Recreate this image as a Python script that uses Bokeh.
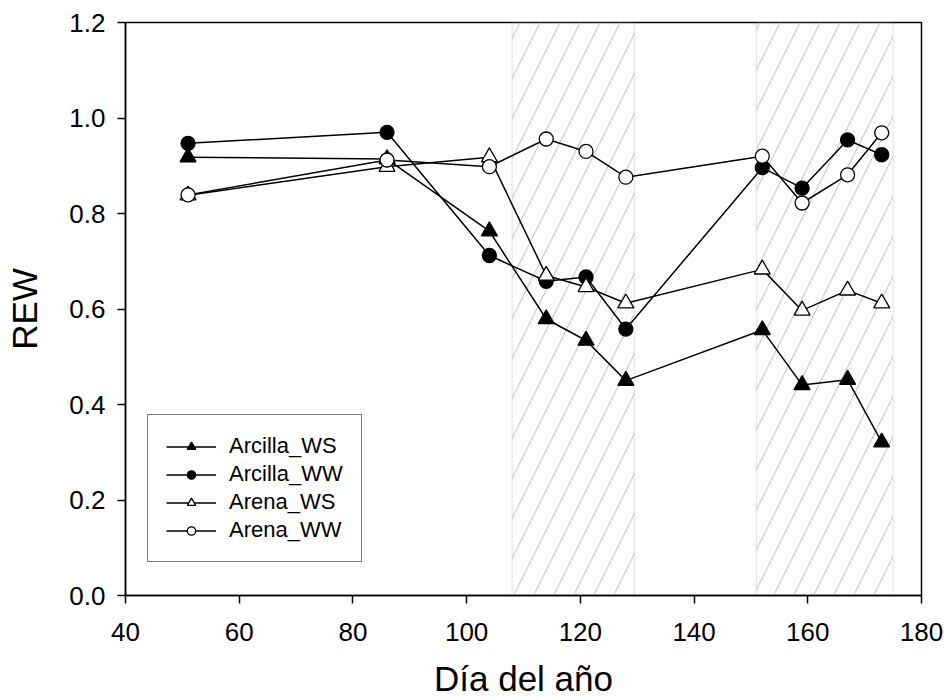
from bokeh.plotting import figure
from bokeh.models import (BoxAnnotation, Legend, LegendItem, FixedTicker, Range1d,
                          NumeralTickFormatter)
from bokeh.embed import file_html
from bokeh.resources import INLINE

# ---- data ----
days = [51, 86, 104, 114, 121, 128, 152, 159, 167, 173]
arcilla_ws = [0.918, 0.914, 0.763, 0.579, 0.534, 0.450, 0.556, 0.441, 0.452, 0.321]
arcilla_ww = [0.947, 0.970, 0.712, 0.658, 0.667, 0.558, 0.896, 0.853, 0.954, 0.923]
arena_ws = [0.838, 0.898, 0.918, 0.670, 0.646, 0.612, 0.683, 0.597, 0.639, 0.612]
arena_ww = [0.839, 0.912, 0.898, 0.956, 0.930, 0.876, 0.920, 0.822, 0.881, 0.969]

# shaded (hatched) periods, in day of year
band_starts = [108, 151]
band_ends = [129.5, 175]

x_ticks = [40, 60, 80, 100, 120, 140, 160, 180]
y_ticks = [0.0, 0.2, 0.4, 0.6, 0.8, 1.0, 1.2]

FONT = "Liberation Sans"

p = figure(width=944, height=700, output_backend="svg", toolbar_location=None,
           x_range=Range1d(40, 180), y_range=Range1d(0, 1.2),
           min_border_left=125, min_border_right=23, min_border_top=22, min_border_bottom=105)
p.grid.visible = False
p.background_fill_color = "white"
p.border_fill_color = "white"
p.outline_line_color = "black"
p.outline_line_width = 1.5

for s, e in zip(band_starts, band_ends):
    p.add_layout(BoxAnnotation(left=s, right=e, fill_color=None, fill_alpha=0,
                               line_color="#b8b8b8", line_width=1.5,
                               hatch_pattern="/", hatch_color="#c0c0c0",
                               hatch_scale=40, hatch_weight=1, level="underlay"))

series = [
    ("Arcilla_WS", arcilla_ws, "triangle", "black", 16),
    ("Arcilla_WW", arcilla_ww, "circle", "black", 14),
    ("Arena_WS", arena_ws, "triangle", "white", 16),
    ("Arena_WW", arena_ww, "circle", "white", 14),
]

items = []
for name, vals, marker, fill, size in series:
    l = p.line(days, vals, line_color="black", line_width=1.5)
    m = p.scatter(days, vals, marker=marker, size=size, fill_color=fill,
                  line_color="black", line_width=1.3)
    items.append(LegendItem(label=name, renderers=[l, m]))

legend = Legend(items=items, location=(22, 33), padding=18, spacing=2,
                glyph_width=50, glyph_height=21, label_height=21, label_standoff=13,
                label_text_font=FONT, label_text_font_size="22px", label_text_color="black",
                border_line_color="black", border_line_width=1.3,
                background_fill_color="white", background_fill_alpha=1, margin=0)
p.add_layout(legend, "center")

for ax in (p.xaxis[0], p.yaxis[0]):
    ax.axis_line_width = 1.5
    ax.axis_line_color = "black"
    ax.major_tick_line_width = 1.5
    ax.major_tick_line_color = "black"
    ax.major_tick_in = 0
    ax.major_tick_out = 8
    ax.minor_tick_line_color = None
    ax.major_label_text_font = FONT
    ax.major_label_text_font_size = "26px"
    ax.major_label_text_color = "black"
    ax.axis_label_text_font = FONT
    ax.axis_label_text_font_size = "35px"
    ax.axis_label_text_font_style = "normal"
    ax.axis_label_text_color = "black"

p.yaxis.major_label_standoff = 12
p.xaxis.major_label_standoff = 19
p.xaxis.ticker = FixedTicker(ticks=x_ticks)
p.yaxis.ticker = FixedTicker(ticks=y_ticks)
p.yaxis.formatter = NumeralTickFormatter(format="0.0")
p.xaxis.axis_label = "Día del año"
p.yaxis.axis_label = "REW"
p.xaxis.axis_label_standoff = 15
p.yaxis.axis_label_standoff = 22

open("out.html", "w").write(file_html(p, INLINE))
